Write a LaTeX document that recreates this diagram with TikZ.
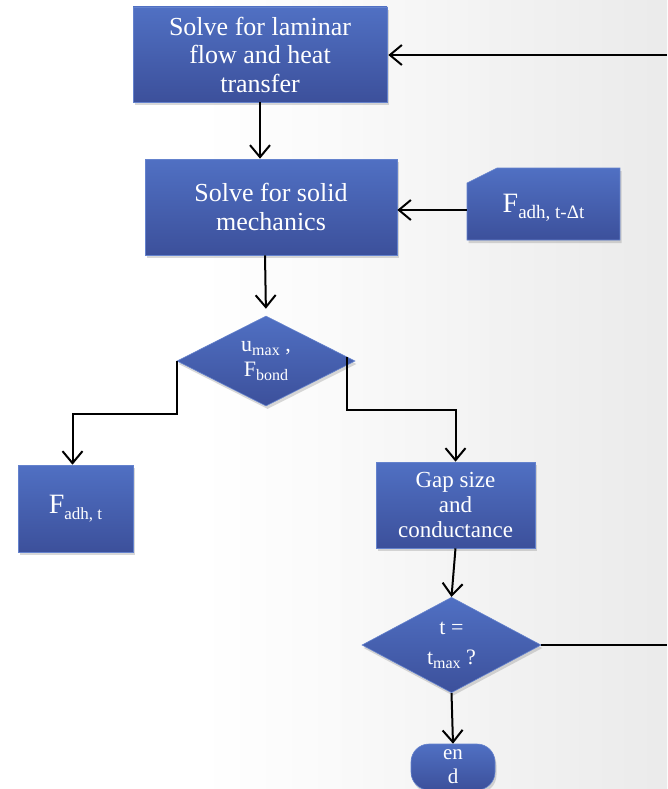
\documentclass[tikz,border=0pt]{standalone}
\usepackage{fontspec}
\setmainfont{Liberation Serif}
\usetikzlibrary{arrows.meta,shapes.geometric,shadows}
\definecolor{boxtop}{RGB}{80,112,195}
\definecolor{boxbot}{RGB}{60,80,155}
\definecolor{boxedge}{RGB}{100,130,205}
\pgfdeclarehorizontalshading{bgshade}{100bp}{color(0bp)=(white); color(25bp)=(white); color(40bp)=(white); color(50bp)=(black!2); color(62bp)=(black!5); color(75bp)=(black!8); color(100bp)=(black!8)}
\begin{document}
\begin{tikzpicture}[x=1pt,y=-1pt,
  shad/.style={drop shadow={shadow xshift=1.5pt,shadow yshift=-3pt,opacity=0.3}},
  fillblue/.style={top color=boxtop, bottom color=boxbot, draw=boxedge, line width=0.6pt},
  blk/.style={shape=rectangle, fillblue, shad, text=white, align=center, inner sep=0pt},
  dia/.style={blk, shape=diamond},
  arr/.style={draw=black, line width=2pt, -{Straight Barb[length=12pt,width=20pt]}},
  ln/.style={draw=black, line width=2pt}]
\useasboundingbox (0,0) rectangle (667,789);
\shade[shading=bgshade] (0,0) rectangle (667,789);

\node[blk, minimum width=254pt, minimum height=95pt, font=\fontsize{26}{28.5}\selectfont] (b1) at (260,54.5) {Solve for laminar\\flow and heat\\transfer};
\node[blk, minimum width=252pt, minimum height=96pt, font=\fontsize{26}{28.5}\selectfont] (b2) at (271,207) {Solve for solid\\mechanics};

\path[fillblue, shad] (467,183) -- (497,168) -- (620,168) -- (620,240) -- (467,240) -- cycle;
\node[minimum width=153pt, minimum height=72pt, inner sep=0pt, text=white, font=\fontsize{28}{30}\selectfont] (fa) at (543.5,208) {F\raisebox{-6pt}{\fontsize{19}{19}\selectfont adh, t-Δt}};

\node[dia, minimum width=178pt, minimum height=90pt, font=\fontsize{22}{25}\selectfont] (d1) at (266,361) {u\raisebox{-4pt}{\fontsize{16}{16}\selectfont max} ,\\F\raisebox{-4pt}{\fontsize{16}{16}\selectfont bond}};

\node[blk, minimum width=115pt, minimum height=87pt, font=\fontsize{28}{30}\selectfont] (ft) at (75.5,508.5) {F\raisebox{-6pt}{\fontsize{17}{17}\selectfont adh, t}};
\node[blk, minimum width=159pt, minimum height=86pt, font=\fontsize{23}{25}\selectfont] (gp) at (455.5,505) {Gap size\\and\\conductance};

\node[dia, minimum width=179pt, minimum height=88pt, font=\fontsize{22}{30}\selectfont] (d2) at (451.5,645) {t =\\t\raisebox{-4pt}{\fontsize{16}{16}\selectfont max} ?};
\node[blk, rounded corners=18pt, minimum width=84pt, minimum height=46pt, font=\fontsize{21}{24}\selectfont] (en) at (453,767) {en\\d};

\coordinate (r1) at (667,55);
\coordinate (r2) at (667,645);

\draw[arr] (b1.south) -- (b1.south |- b2.north);
\draw[arr, shorten >=1pt] (r1) -- (r1 -| b1.east);
\draw[arr] ([yshift=-2pt]fa.west) -- ([yshift=-2pt]fa.west -| b2.east);
\draw[arr, shorten >=7pt] ([xshift=-6pt]b2.south) -- (d1.north);
\draw[arr] (d1.west) -- ++(0,53) -| ([xshift=-3pt]ft.north);
\draw[arr] ([xshift=-8pt,yshift=4pt]d1.east) -- ++(0,53) -| (gp.north);
\draw[arr] (gp.south) -- (d2.north);
\draw[ln] (d2.east) -- (r2);
\draw[arr] (d2.south) -- (en.north);
\end{tikzpicture}
\end{document}
